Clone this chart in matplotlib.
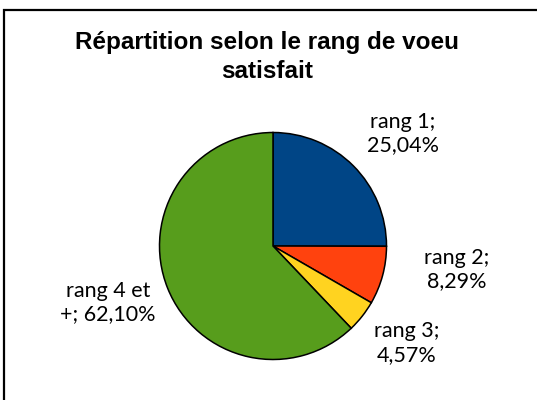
import matplotlib.pyplot as plt
from matplotlib.patches import Rectangle

# data
categories = ['rang 1', 'rang 2', 'rang 3', 'rang 4 et\n+']
shares = [25.04, 8.29, 4.57, 62.10]
pct_labels = ['25,04%', '8,29%', '4,57%', '62,10%']
colors = ['#004586', '#FF420E', '#FFD320', '#579D1C']

fig = plt.figure(figsize=(5.37, 4.0), dpi=100)
fig.patch.set_facecolor('white')

# chart frame (only top and left edges visible in the crop)
fig.patches.append(Rectangle((4 / 537, -0.2), 2.0, 1.2 - 9.5 / 400,
                             transform=fig.transFigure, fill=False,
                             edgecolor='black', linewidth=1.6))

fig.text(267 / 537, 1 - 57 / 400, 'Répartition selon le rang de voeu\nsatisfait',
         ha='center', va='center', fontsize=17.5, fontweight='bold',
         family='Liberation Sans', linespacing=1.3)

# pie axes: centre ~(273,246) px, radius ~113.5 px
r = 113.5
ax = fig.add_axes([(273 - r) / 537, (400 - 246 - r) / 400, 2 * r / 537, 2 * r / 400])
ax.pie(shares, colors=colors, startangle=90, counterclock=False,
       wedgeprops=dict(edgecolor='black', linewidth=1.1))
ax.set_xlim(-1, 1)
ax.set_ylim(-1, 1)
ax.set_axis_off()

label_pos = [(1.145, 0.99), (1.62, -0.21), (1.18, -0.855), (-1.454, -0.50)]
for cat, pct, (x, y) in zip(categories, pct_labels, label_pos):
    if '\n' in cat:
        txt = cat + '; ' + pct
    else:
        txt = cat + ';\n' + pct
    ax.text(x, y, txt, ha='center', va='center', fontsize=15.5,
            family='Lato', linespacing=1.2, clip_on=False)

fig.savefig('out.png', dpi=100, facecolor='white')
